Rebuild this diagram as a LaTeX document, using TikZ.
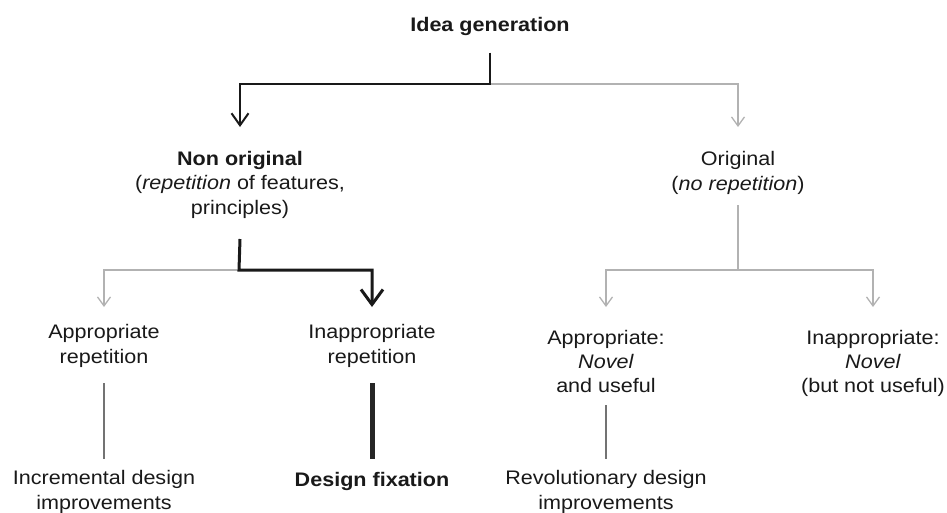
\documentclass[tikz,border=0pt]{standalone}
\usepackage{fontspec}
\setmainfont[FakeStretch=1.1]{Liberation Sans}
\usetikzlibrary{arrows.meta,calc}

\begin{document}
\begin{tikzpicture}[x=1pt, y=-1pt,
    txt/.style={anchor=base, align=center, inner sep=0pt, outer sep=0pt,
        font=\fontsize{19.6}{24.3}\selectfont, text=black!90},
    lgt/.style={draw=black!30, line width=1.3pt},
    mid/.style={draw=black!55, line width=1.3pt},
    blk/.style={draw=black!90, line width=2pt},
    bigblk/.style={draw=black!90, line width=3pt},
    tipl/.style={-{Straight Barb[length=9pt,width=13pt]}},
    tipb/.style={-{Straight Barb[length=12pt,width=17pt]}},
    tipbb/.style={-{Straight Barb[length=15pt,width=22pt]}}]
    \useasboundingbox (0,0) rectangle (947,512);

    % text (base = last line)
    \node[txt] (idea) at (490,31.7) {\textbf{Idea generation}};
    \node[txt] (non) at (240,214) {\textbf{Non original}\\(\textit{repetition} of features,\\principles)};
    \node[txt] (orig) at (738,190) {Original\\(\textit{no repetition})};
    \node[txt] (app) at (104,363) {Appropriate\\repetition};
    \node[txt] (inapp) at (372,363) {Inappropriate\\repetition};
    \node[txt] (appnov) at (606,392.7) {Appropriate:\\\textit{Novel}\\and useful};
    \node[txt] (inappnov) at (873,392.7) {Inappropriate:\\\textit{Novel}\\(but not useful)};
    \node[txt] (incr) at (104,509) {Incremental design\\improvements};
    \node[txt] (fix) at (372,486) {\textbf{Design fixation}};
    \node[txt] (revo) at (606,509) {Revolutionary design\\improvements};

    % junctions
    \coordinate (j0) at (490,84);
    \coordinate (j1) at (239,270);
    \coordinate (j2) at (738,270);

    % first level
    \draw[lgt, tipl] (j0) -| ($(orig.base)+(0,-63)$);
    \draw[blk, tipb] ($(idea.base)+(0,21)$) -- (j0) -| ($(non.base)+(0,-87)$);

    % second level
    \draw[lgt, tipl] (j1) -| ($(app.base)+(0,-56)$);
    \draw[bigblk, tipbb] ($(non.base)+(0,25)$) -- (j1) -| ($(inapp.base)+(0,-56)$);
    \draw[lgt, tipl] ($(orig.base)+(0,15)$) -- (j2) -| ($(appnov.base)+(0,-85.7)$);
    \draw[lgt, tipl] (j2) -| ($(inappnov.base)+(0,-85.7)$);

    % third level
    \draw[mid] ($(app.base)+(0,20)$) -- ($(incr.base)+(0,-50)$);
    \draw[draw=black!85, line width=5pt] ($(inapp.base)+(0,20)$) -- ($(fix.base)+(0,-27)$);
    \draw[mid] ($(appnov.base)+(0,12.3)$) -- ($(revo.base)+(0,-50)$);
\end{tikzpicture}
\end{document}
